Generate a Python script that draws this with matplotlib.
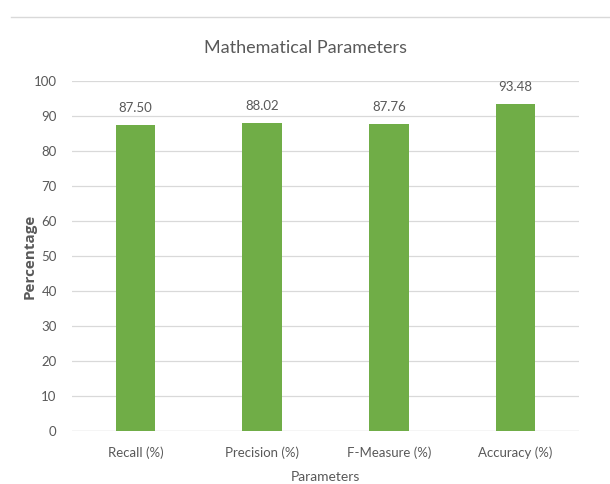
import matplotlib
matplotlib.use("Agg")
import matplotlib.pyplot as plt
from matplotlib import font_manager

categories = ["Recall (%)", "Precision (%)", "F-Measure (%)", "Accuracy (%)"]
values = [87.50, 88.02, 87.76, 93.48]
yticks = list(range(0, 101, 10))

installed = {f.name for f in font_manager.fontManager.ttflist}
if "Liberation Sans Narrow" in installed:
    base_font, fs = "Liberation Sans Narrow", 10.5
else:
    base_font, fs = "Lato", 9.5
plt.rcParams["font.family"] = [base_font, "DejaVu Sans"]
txt = "#595959"
grid_c = "#D9D9D9"

fig = plt.figure(figsize=(6.10, 4.84), dpi=100)
ax = fig.add_axes([72/610, 1 - 431/484, 507/610, 350/484])
x = list(range(len(categories)))
ax.bar(x, values, width=0.31, color="#70AD47", zorder=3)
for xi, v in zip(x, values):
    ax.text(xi, v + 3.2, f"{v:.2f}", ha="center", va="bottom", fontsize=fs, color=txt)
ax.set_xlim(-0.5, len(categories) - 0.5)
ax.set_ylim(0, 100)
ax.set_yticks(yticks)
ax.set_xticks(x)
ax.set_xticklabels(categories)
ax.tick_params(axis="x", length=0, labelsize=fs, colors=txt, pad=11)
ax.tick_params(axis="y", length=0, labelsize=fs, colors=txt, pad=11)
ax.yaxis.grid(True, color=grid_c, linewidth=0.9, zorder=0)
for s in ax.spines.values():
    s.set_visible(False)
ax.axhline(0, color=grid_c, linewidth=0.9, zorder=2)

ax.set_xlabel("Parameters", fontsize=fs + 0.5, color=txt, va="center")
ax.xaxis.set_label_coords(0.5, -(477 - 431) / 350)
ax.set_ylabel("Percentage", fontsize=11, color=txt, fontweight="bold",
              family=["Open Sans", "DejaVu Sans"], va="center")
ax.yaxis.set_label_coords(-(72 - 30) / 507, 0.5)

fig.text(0.5, 1 - 48/484, "Mathematical Parameters", ha="center", va="center",
         fontsize=13, color=txt)
fig.add_artist(plt.Line2D([11/610, 1], [1 - 17/484, 1 - 17/484], color=grid_c, linewidth=1))
fig.savefig("out.png", dpi=100)
